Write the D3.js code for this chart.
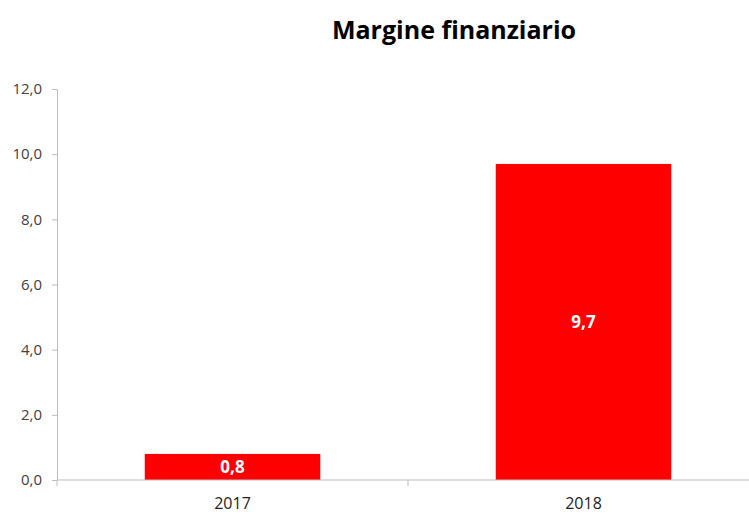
<!DOCTYPE html>
<html lang="it">
<head>
<meta charset="utf-8">
<title>Margine finanziario</title>
<script src="https://d3js.org/d3.v7.min.js"></script>
<style>
  body { margin: 0; background: #fff; }
  text { font-family: "Open Sans", "Noto Sans", sans-serif; }
</style>
</head>
<body>
<script>
  // data
  var title = "Margine finanziario";
  var years = ["2017", "2018"];
  var values = [0.8, 9.7];
  var yTicks = [0, 2, 4, 6, 8, 10, 12];

  var w = 749, h = 515;
  var margin = {top: 89, right: -10, bottom: 35, left: 57};
  var innerW = w - margin.left - margin.right;
  var innerH = h - margin.top - margin.bottom;

  var fmt = function(v) { return d3.format(".1f")(v).replace(".", ","); };

  var svg = d3.select("body").append("svg")
    .attr("width", w)
    .attr("height", h);

  var g = svg.append("g")
    .attr("transform", `translate(${margin.left},${margin.top})`);

  var x = d3.scaleBand()
    .domain(years)
    .range([0, innerW])
    .paddingInner(0.5)
    .paddingOuter(0.25);

  var x0 = d3.scaleLinear().domain([0, years.length]).range([0, innerW]);

  var y = d3.scaleLinear()
    .domain([0, 12])
    .range([innerH, 0]);

  // y axis
  var yAxis = g.append("g")
    .call(d3.axisLeft(y).tickValues(yTicks).tickFormat(fmt).tickSize(5).tickSizeOuter(0));
  yAxis.select(".domain").attr("stroke", "#bdbdbd");
  yAxis.selectAll(".tick line").attr("stroke", "#bdbdbd");
  yAxis.selectAll(".tick text")
    .attr("x", -15)
    .attr("fill", "#404040")
    .style("font-size", "15px");

  // bars
  g.selectAll("rect.bar")
    .data(values)
    .enter().append("rect")
    .attr("class", "bar")
    .attr("x", (d, i) => x(years[i]))
    .attr("y", d => y(d))
    .attr("width", x.bandwidth())
    .attr("height", d => innerH - y(d))
    .attr("fill", "#ff0000");

  // bar labels
  g.selectAll("text.lbl")
    .data(values)
    .enter().append("text")
    .attr("class", "lbl")
    .attr("x", (d, i) => x(years[i]) + x.bandwidth() / 2)
    .attr("y", d => (y(d) + innerH) / 2)
    .attr("dy", "0.35em")
    .attr("text-anchor", "middle")
    .attr("fill", "#fff")
    .style("font-size", "17px")
    .style("font-weight", "bold")
    .text(d => fmt(d));

  // x axis
  var xAxis = g.append("g")
    .attr("transform", `translate(0,${innerH})`);
  xAxis.append("line")
    .attr("x1", 0).attr("x2", innerW)
    .attr("stroke", "#bdbdbd");
  xAxis.selectAll("line.tk")
    .data(d3.range(years.length + 1))
    .enter().append("line")
    .attr("class", "tk")
    .attr("x1", d => x0(d)).attr("x2", d => x0(d))
    .attr("y1", 0).attr("y2", 6)
    .attr("stroke", "#bdbdbd");
  xAxis.selectAll("text")
    .data(years)
    .enter().append("text")
    .attr("x", d => x(d) + x.bandwidth() / 2)
    .attr("y", 23)
    .attr("dy", "0.35em")
    .attr("text-anchor", "middle")
    .attr("fill", "#222")
    .style("font-size", "16px")
    .text(d => d);

  // title
  svg.append("text")
    .attr("x", 454)
    .attr("y", 39)
    .attr("text-anchor", "middle")
    .attr("fill", "#000")
    .style("font-size", "25px")
    .style("font-weight", "bold")
    .text(title);
</script>
</body>
</html>
